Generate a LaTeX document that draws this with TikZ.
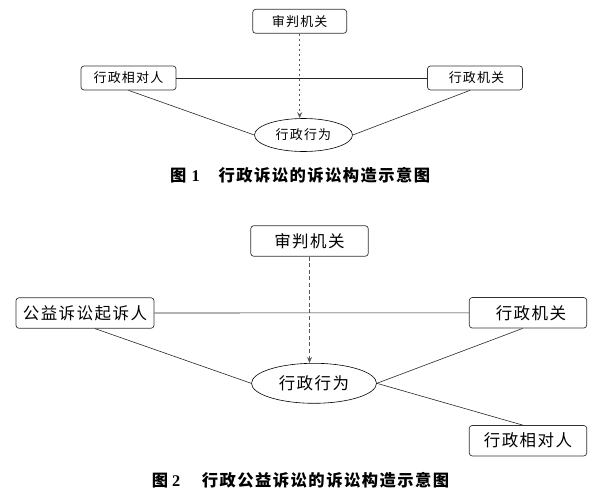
\documentclass[tikz,border=0pt]{standalone}
\usepackage{fontspec}
\usetikzlibrary{shapes.geometric,arrows.meta}
\newfontfamily\cjk[LetterSpace=9]{Noto Sans CJK SC}
\newfontfamily\cjkcap[LetterSpace=9]{Noto Sans CJK SC}
\newfontfamily\latinserif{Liberation Serif}
\begin{document}
\begin{tikzpicture}[x=1pt,y=-1pt,
  box/.style={draw=black!80, line width=0.7pt, rounded corners=3pt, inner sep=0pt},
  boxA/.style={box, minimum width=95pt, minimum height=24pt, font=\cjk\fontsize{13}{15}\selectfont},
  boxB/.style={box, minimum width=117.5pt, minimum height=30.5pt, font=\cjk\fontsize{16.5}{18}\selectfont},
  ell/.style={ellipse, draw=black, line width=0.6pt, inner sep=0pt},
  conn/.style={line width=0.6pt, draw=black!85},
  dasharrow/.style={line width=0.9pt, draw=black!65, -{Stealth[length=6pt,width=5pt]}},
  captext/.style={inner sep=0pt, anchor=west, font=\cjkcap\bfseries\fontsize{16.3}{18}\selectfont},
  capnum/.style={inner sep=0pt, anchor=west, font=\latinserif\bfseries\fontsize{16.3}{18}\selectfont}
]
\useasboundingbox (0,0) rectangle (599,503);

% ---------- Figure 1 ----------
\node[boxA, minimum width=94pt] (sp1) at (299.7,21.3) {审判机关};
\node[boxA] (xd1) at (128.5,78) {行政相对人};
\node[boxA] (jg1) at (475,78) {\hspace{3pt}行政机关};
\node[ell, minimum width=98pt, minimum height=33pt, font=\cjk\fontsize{13}{15}\selectfont] (xw1) at (303.5,135) {行政行为};
\draw[conn] (xd1.east) -- (jg1.west);
\draw[conn] (xd1.south) -- (xw1.west);
\draw[conn] ([xshift=-5pt]jg1.south) -- (xw1.east);
\draw[dasharrow, dash pattern=on 2.6pt off 2.4pt] (sp1.south) -- (sp1.south |- xw1.north);
\node[capnum] (c1a) at (170,175.7) {\cjkcap 图\hspace{5pt}\latinserif 1};
\node[captext] (c1b) at (218.3,175.7) {行政诉讼的诉讼构造示意图};

% ---------- Figure 2 ----------
\node[boxB] (sp2) at (309.5,241) {审判机关};
\node[boxB, minimum width=138pt] (qs2) at (85,313) {公益诉讼起诉人};
\node[boxB] (jg2) at (528,312.8) {\hspace{6pt}行政机关};
\node[boxB] (xd2) at (528,440.7) {行政相对人};
\node[ell, minimum width=125pt, minimum height=40pt, font=\cjk\fontsize{16.5}{18}\selectfont] (xw2) at (314,383.3) {行政行为};
\draw[conn] (qs2.east) -- (jg2.west);
\draw[conn] ([xshift=10pt]qs2.south) -- (xw2.west);
\draw[conn] ([xshift=-5.3pt]jg2.south) -- (xw2.east);
\draw[conn] (xw2.east) -- ([xshift=-5.3pt]xd2.north);
\draw[dasharrow, dash pattern=on 4pt off 2.6pt] (sp2.south) -- (sp2.south |- xw2.north);
\node[capnum] (c2a) at (151.7,480.7) {\cjkcap 图\hspace{4pt}\latinserif 2};
\node[captext] (c2b) at (201.7,480.7) {行政公益诉讼的诉讼构造示意图};
\end{tikzpicture}
\end{document}
